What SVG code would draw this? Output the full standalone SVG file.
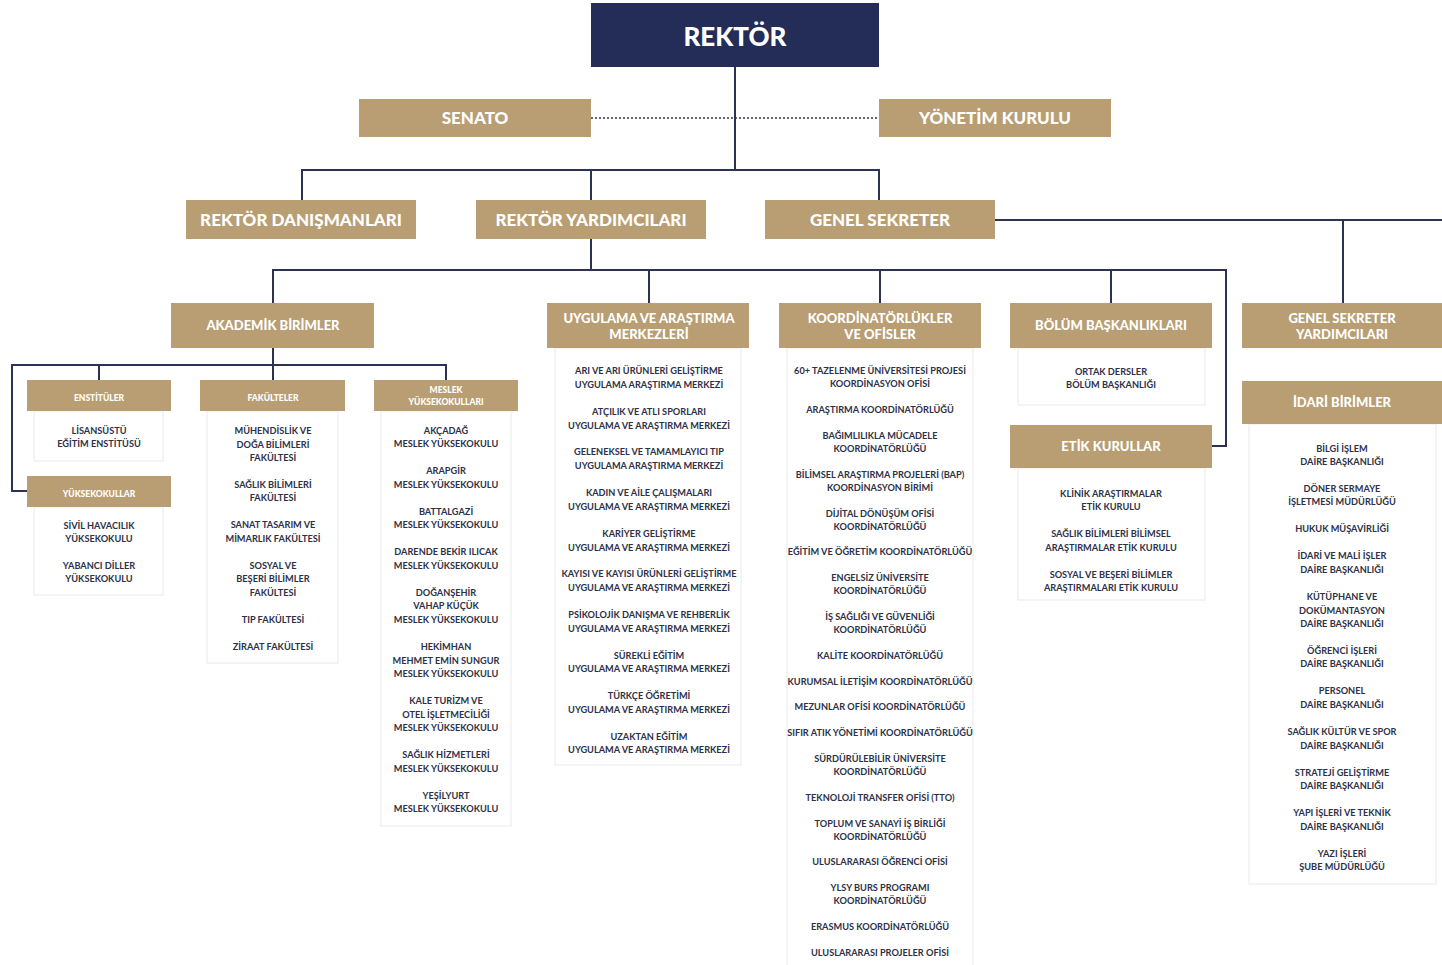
<svg xmlns="http://www.w3.org/2000/svg" width="1442" height="965" viewBox="0 0 1442 965">
<style>
.bg{fill:#ffffff}
.navy{fill:#232d57}
.gold{fill:#b89e72}
.panel{fill:#ffffff;stroke:#e9e9e9;stroke-width:1}
.ln{fill:none;stroke:#2b3350;stroke-width:2}
.dot{fill:none;stroke:#2b3350;stroke-width:1.5;stroke-dasharray:2 2}
.h0{font-family:Lato,"Liberation Sans",sans-serif;font-weight:900;font-size:26px;fill:#fff;text-anchor:middle}
.h1{font-family:Lato,"Liberation Sans",sans-serif;font-weight:900;font-size:17px;fill:#fff;text-anchor:middle}
.h2{font-family:Lato,"Liberation Sans",sans-serif;font-weight:900;font-size:13px;fill:#fff;text-anchor:middle}
.h3{font-family:Lato,"Liberation Sans",sans-serif;font-weight:900;font-size:8.5px;fill:#fff;text-anchor:middle;transform:translateY(1.5px)}
.it{font-family:Lato,"Liberation Sans",sans-serif;font-weight:700;font-size:9.2px;fill:#2d3148;text-anchor:middle;transform:translateY(1px)}
</style>
<rect class="bg" x="0" y="0" width="1442" height="965"/>

<g id="connectors">
<path class="ln" d="M735,67 V170"/>
<path class="ln" d="M302,200 V170 H879 V200"/>
<path class="ln" d="M591,170 V200"/>
<path class="dot" d="M591,118 H879"/>
<path class="ln" d="M995,220 H1442"/>
<path class="ln" d="M1343,220 V303"/>
<path class="ln" d="M591,239 V270"/>
<path class="ln" d="M273,303 V270 H1226 V446 H1212"/>
<path class="ln" d="M649,270 V303 M880,270 V303 M1111,270 V303"/>
<path class="ln" d="M273,348 V365"/>
<path class="ln" d="M27,491 H12 V365 H446 V380"/>
<path class="ln" d="M99,365 V380 M273,365 V380"/>
</g>

<g id="rektor">
<rect class="navy" x="591" y="3" width="288" height="64"/>
<text class="h0" x="735" y="46">REKTÖR</text>
</g>
<g id="senato">
<rect class="gold" x="359" y="99" width="232" height="38"/>
<text class="h1" x="475" y="124">SENATO</text>
</g>
<g id="yonetim-kurulu">
<rect class="gold" x="879" y="99" width="232" height="38"/>
<text class="h1" x="995" y="124">YÖNETİM KURULU</text>
</g>
<g id="rektor-danismanlari">
<rect class="gold" x="186" y="200" width="230" height="39"/>
<text class="h1" x="301" y="226">REKTÖR DANIŞMANLARI</text>
</g>
<g id="rektor-yardimcilari">
<rect class="gold" x="476" y="200" width="230" height="39"/>
<text class="h1" x="591" y="226">REKTÖR YARDIMCILARI</text>
</g>
<g id="genel-sekreter">
<rect class="gold" x="765" y="200" width="230" height="39"/>
<text class="h1" x="880" y="226">GENEL SEKRETER</text>
</g>

<g id="akademik-birimler">
<rect class="gold" x="171" y="303" width="203" height="45"/>
<text class="h2" x="273" y="330">AKADEMİK BİRİMLER</text>
</g>

<g id="enstituler">
<rect class="panel" x="34" y="411" width="129" height="50"/>
<rect class="gold" x="27" y="380" width="144" height="31"/>
<text class="h3" x="99" y="399">ENSTİTÜLER</text>
<text class="it" x="99" y="433">LİSANSÜSTÜ</text>
<text class="it" x="99" y="446">EĞİTİM ENSTİTÜSÜ</text>
</g>

<g id="yuksekokullar">
<rect class="panel" x="34" y="507" width="129" height="88"/>
<rect class="gold" x="27" y="476" width="144" height="31"/>
<text class="h3" x="99" y="495">YÜKSEKOKULLAR</text>
<text class="it" x="99" y="528">SİVİL HAVACILIK</text>
<text class="it" x="99" y="541">YÜKSEKOKULU</text>
<text class="it" x="99" y="568">YABANCI DİLLER</text>
<text class="it" x="99" y="581">YÜKSEKOKULU</text>
</g>

<g id="fakulteler">
<rect class="panel" x="207" y="411" width="131" height="252"/>
<rect class="gold" x="200" y="380" width="145" height="31"/>
<text class="h3" x="273" y="399">FAKÜLTELER</text>
<text class="it" x="273" y="433">MÜHENDİSLİK VE</text>
<text class="it" x="273" y="447">DOĞA BİLİMLERİ</text>
<text class="it" x="273" y="460">FAKÜLTESİ</text>
<text class="it" x="273" y="487">SAĞLIK BİLİMLERİ</text>
<text class="it" x="273" y="500">FAKÜLTESİ</text>
<text class="it" x="273" y="527">SANAT TASARIM VE</text>
<text class="it" x="273" y="541">MİMARLIK FAKÜLTESİ</text>
<text class="it" x="273" y="568">SOSYAL VE</text>
<text class="it" x="273" y="581">BEŞERİ BİLİMLER</text>
<text class="it" x="273" y="595">FAKÜLTESİ</text>
<text class="it" x="273" y="622">TIP FAKÜLTESİ</text>
<text class="it" x="273" y="649">ZİRAAT FAKÜLTESİ</text>
</g>

<g id="meslek-yuksekokullari">
<rect class="panel" x="381" y="411" width="130" height="415"/>
<rect class="gold" x="374" y="380" width="144" height="31"/>
<text class="h3" x="446" y="391">MESLEK</text>
<text class="h3" x="446" y="403">YÜKSEKOKULLARI</text>
<text class="it" x="446" y="433">AKÇADAĞ</text>
<text class="it" x="446" y="446">MESLEK YÜKSEKOKULU</text>
<text class="it" x="446" y="473">ARAPGİR</text>
<text class="it" x="446" y="487">MESLEK YÜKSEKOKULU</text>
<text class="it" x="446" y="514">BATTALGAZİ</text>
<text class="it" x="446" y="527">MESLEK YÜKSEKOKULU</text>
<text class="it" x="446" y="554">DARENDE BEKİR ILICAK</text>
<text class="it" x="446" y="568">MESLEK YÜKSEKOKULU</text>
<text class="it" x="446" y="595">DOĞANŞEHİR</text>
<text class="it" x="446" y="608">VAHAP KÜÇÜK</text>
<text class="it" x="446" y="622">MESLEK YÜKSEKOKULU</text>
<text class="it" x="446" y="649">HEKİMHAN</text>
<text class="it" x="446" y="663">MEHMET EMİN SUNGUR</text>
<text class="it" x="446" y="676">MESLEK YÜKSEKOKULU</text>
<text class="it" x="446" y="703">KALE TURİZM VE</text>
<text class="it" x="446" y="717">OTEL İŞLETMECİLİĞİ</text>
<text class="it" x="446" y="730">MESLEK YÜKSEKOKULU</text>
<text class="it" x="446" y="757">SAĞLIK HİZMETLERİ</text>
<text class="it" x="446" y="771">MESLEK YÜKSEKOKULU</text>
<text class="it" x="446" y="798">YEŞİLYURT</text>
<text class="it" x="446" y="811">MESLEK YÜKSEKOKULU</text>
</g>

<g id="uygulama-arastirma-merkezleri">
<rect class="panel" x="555" y="348" width="186" height="417"/>
<rect class="gold" x="547" y="303" width="202" height="45"/>
<text class="h2" x="649" y="323">UYGULAMA VE ARAŞTIRMA</text>
<text class="h2" x="649" y="339">MERKEZLERİ</text>
<text class="it" x="649" y="373">ARI VE ARI ÜRÜNLERİ GELİŞTİRME</text>
<text class="it" x="649" y="387">UYGULAMA  ARAŞTIRMA MERKEZİ</text>
<text class="it" x="649" y="414">ATÇILIK VE ATLI SPORLARI</text>
<text class="it" x="649" y="428">UYGULAMA VE ARAŞTIRMA MERKEZİ</text>
<text class="it" x="649" y="454">GELENEKSEL VE TAMAMLAYICI TIP</text>
<text class="it" x="649" y="468">UYGULAMA ARAŞTIRMA MERKEZİ</text>
<text class="it" x="649" y="495">KADIN VE AİLE ÇALIŞMALARI</text>
<text class="it" x="649" y="509">UYGULAMA VE ARAŞTIRMA MERKEZİ</text>
<text class="it" x="649" y="536">KARİYER GELİŞTİRME</text>
<text class="it" x="649" y="550">UYGULAMA VE ARAŞTIRMA MERKEZİ</text>
<text class="it" x="649" y="576">KAYISI VE KAYISI ÜRÜNLERİ GELİŞTİRME</text>
<text class="it" x="649" y="590">UYGULAMA VE ARAŞTIRMA MERKEZİ</text>
<text class="it" x="649" y="617">PSİKOLOJİK DANIŞMA VE REHBERLİK</text>
<text class="it" x="649" y="631">UYGULAMA VE ARAŞTIRMA MERKEZİ</text>
<text class="it" x="649" y="658">SÜREKLİ EĞİTİM</text>
<text class="it" x="649" y="671">UYGULAMA VE ARAŞTIRMA MERKEZİ</text>
<text class="it" x="649" y="698">TÜRKÇE ÖĞRETİMİ</text>
<text class="it" x="649" y="712">UYGULAMA VE ARAŞTIRMA MERKEZİ</text>
<text class="it" x="649" y="739">UZAKTAN EĞİTİM</text>
<text class="it" x="649" y="752">UYGULAMA VE ARAŞTIRMA MERKEZİ</text>
</g>

<g id="koordinatorlukler-ofisler">
<rect class="panel" x="787" y="348" width="186" height="630"/>
<rect class="gold" x="779" y="303" width="202" height="45"/>
<text class="h2" x="880" y="323">KOORDİNATÖRLÜKLER</text>
<text class="h2" x="880" y="339">VE OFİSLER</text>
<text class="it" x="880" y="373">60+ TAZELENME ÜNİVERSİTESİ PROJESİ</text>
<text class="it" x="880" y="386">KOORDİNASYON OFİSİ</text>
<text class="it" x="880" y="412">ARAŞTIRMA KOORDİNATÖRLÜĞÜ</text>
<text class="it" x="880" y="438">BAĞIMLILIKLA MÜCADELE</text>
<text class="it" x="880" y="451">KOORDİNATÖRLÜĞÜ</text>
<text class="it" x="880" y="477">BİLİMSEL ARAŞTIRMA PROJELERİ (BAP)</text>
<text class="it" x="880" y="490">KOORDİNASYON BİRİMİ</text>
<text class="it" x="880" y="516">DİJİTAL DÖNÜŞÜM OFİSİ</text>
<text class="it" x="880" y="529">KOORDİNATÖRLÜĞÜ</text>
<text class="it" x="880" y="554">EĞİTİM VE ÖĞRETİM KOORDİNATÖRLÜĞÜ</text>
<text class="it" x="880" y="580">ENGELSİZ ÜNİVERSİTE</text>
<text class="it" x="880" y="593">KOORDİNATÖRLÜĞÜ</text>
<text class="it" x="880" y="619">İŞ SAĞLIĞI VE GÜVENLİĞİ</text>
<text class="it" x="880" y="632">KOORDİNATÖRLÜĞÜ</text>
<text class="it" x="880" y="658">KALİTE KOORDİNATÖRLÜĞÜ</text>
<text class="it" x="880" y="684">KURUMSAL İLETİŞİM KOORDİNATÖRLÜĞÜ</text>
<text class="it" x="880" y="709">MEZUNLAR OFİSİ KOORDİNATÖRLÜĞÜ</text>
<text class="it" x="880" y="735">SIFIR ATIK YÖNETİMİ KOORDİNATÖRLÜĞÜ</text>
<text class="it" x="880" y="761">SÜRDÜRÜLEBİLİR ÜNİVERSİTE</text>
<text class="it" x="880" y="774">KOORDİNATÖRLÜĞÜ</text>
<text class="it" x="880" y="800">TEKNOLOJİ TRANSFER OFİSİ (TTO)</text>
<text class="it" x="880" y="826">TOPLUM VE SANAYİ İŞ BİRLİĞİ</text>
<text class="it" x="880" y="839">KOORDİNATÖRLÜĞÜ</text>
<text class="it" x="880" y="864">ULUSLARARASI ÖĞRENCİ OFİSİ</text>
<text class="it" x="880" y="890">YLSY BURS PROGRAMI</text>
<text class="it" x="880" y="903">KOORDİNATÖRLÜĞÜ</text>
<text class="it" x="880" y="929">ERASMUS KOORDİNATÖRLÜĞÜ</text>
<text class="it" x="880" y="955">ULUSLARARASI PROJELER OFİSİ</text>
</g>

<g id="bolum-baskanliklari">
<rect class="panel" x="1018" y="348" width="187" height="57"/>
<rect class="gold" x="1010" y="303" width="202" height="45"/>
<text class="h2" x="1111" y="330">BÖLÜM BAŞKANLIKLARI</text>
<text class="it" x="1111" y="374">ORTAK DERSLER</text>
<text class="it" x="1111" y="387">BÖLÜM BAŞKANLIĞI</text>
</g>

<g id="etik-kurullar">
<rect class="panel" x="1018" y="468" width="187" height="132"/>
<rect class="gold" x="1010" y="425" width="202" height="43"/>
<text class="h2" x="1111" y="451">ETİK KURULLAR</text>
<text class="it" x="1111" y="496">KLİNİK ARAŞTIRMALAR</text>
<text class="it" x="1111" y="509">ETİK KURULU</text>
<text class="it" x="1111" y="536">SAĞLIK BİLİMLERİ BİLİMSEL</text>
<text class="it" x="1111" y="550">ARAŞTIRMALAR  ETİK KURULU</text>
<text class="it" x="1111" y="577">SOSYAL VE BEŞERİ BİLİMLER</text>
<text class="it" x="1111" y="590">ARAŞTIRMALARI ETİK KURULU</text>
</g>

<g id="genel-sekreter-yardimcilari">
<rect class="gold" x="1242" y="303" width="200" height="45"/>
<text class="h2" x="1342" y="323">GENEL SEKRETER</text>
<text class="h2" x="1342" y="339">YARDIMCILARI</text>
</g>

<g id="idari-birimler">
<rect class="panel" x="1249" y="424" width="187" height="460"/>
<rect class="gold" x="1242" y="381" width="200" height="43"/>
<text class="h2" x="1342" y="407">İDARİ BİRİMLER</text>
<text class="it" x="1342" y="451">BİLGİ İŞLEM</text>
<text class="it" x="1342" y="464">DAİRE BAŞKANLIĞI</text>
<text class="it" x="1342" y="491">DÖNER SERMAYE</text>
<text class="it" x="1342" y="504">İŞLETMESİ MÜDÜRLÜĞÜ</text>
<text class="it" x="1342" y="531">HUKUK MÜŞAVİRLİĞİ</text>
<text class="it" x="1342" y="558">İDARİ VE MALİ İŞLER</text>
<text class="it" x="1342" y="572">DAİRE BAŞKANLIĞI</text>
<text class="it" x="1342" y="599">KÜTÜPHANE VE</text>
<text class="it" x="1342" y="613">DOKÜMANTASYON</text>
<text class="it" x="1342" y="626">DAİRE BAŞKANLIĞI</text>
<text class="it" x="1342" y="653">ÖĞRENCİ İŞLERİ</text>
<text class="it" x="1342" y="666">DAİRE BAŞKANLIĞI</text>
<text class="it" x="1342" y="693">PERSONEL</text>
<text class="it" x="1342" y="707">DAİRE BAŞKANLIĞI</text>
<text class="it" x="1342" y="734">SAĞLIK KÜLTÜR VE SPOR</text>
<text class="it" x="1342" y="748">DAİRE BAŞKANLIĞI</text>
<text class="it" x="1342" y="775">STRATEJİ GELİŞTİRME</text>
<text class="it" x="1342" y="788">DAİRE BAŞKANLIĞI</text>
<text class="it" x="1342" y="815">YAPI İŞLERİ VE TEKNİK</text>
<text class="it" x="1342" y="829">DAİRE BAŞKANLIĞI</text>
<text class="it" x="1342" y="856">YAZI İŞLERİ</text>
<text class="it" x="1342" y="869">ŞUBE MÜDÜRLÜĞÜ</text>
</g>
</svg>
